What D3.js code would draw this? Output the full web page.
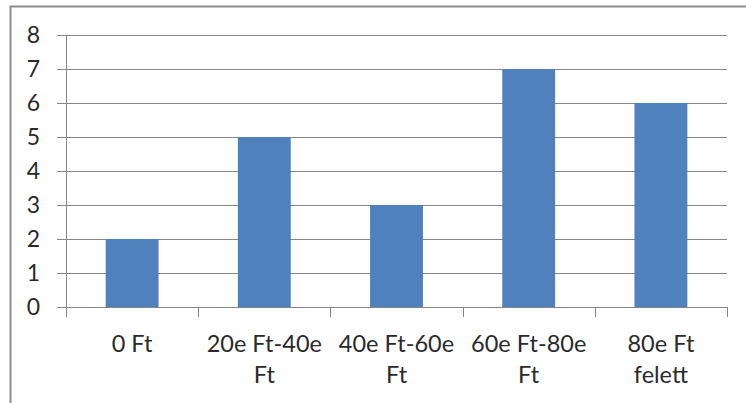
<!DOCTYPE html>
<html>
<head>
<meta charset="utf-8">
<script src="https://cdn.jsdelivr.net/npm/d3@7"></script>
<style>
  body { margin: 0; background: #fff; }
  text { font-family: Lato, "Liberation Sans", sans-serif; fill: #2a2a2a; }
</style>
</head>
<body>
<script>
let width = 746
let height = 403

let categories = ['0 Ft', '20e Ft-40e Ft', '40e Ft-60e Ft', '60e Ft-80e Ft', '80e Ft felett']
let values = [2, 5, 3, 7, 6]
let yTicks = [0, 1, 2, 3, 4, 5, 6, 7, 8]

let svg = d3.select('body').append('svg')
  .attr('width', width)
  .attr('height', height)

// outer frame (cropped at right and bottom)
svg.append('path')
  .attr('d', 'M10.5,' + height + 'V6.5H' + width)
  .attr('fill', 'none')
  .style('stroke', '#8c8c8c')
  .style('stroke-width', 2)

let plotLeft = 66, plotRight = 727, plotTop = 35, plotBottom = 307

let x = d3.scaleBand()
  .domain(categories)
  .range([plotLeft, plotRight])
  .paddingInner(0.6)
  .paddingOuter(0.3)

let y = d3.scaleLinear()
  .domain([0, 8])
  .range([plotBottom, plotTop])

// gridlines + y ticks
let yAxis = svg.append('g')
  .attr('transform', 'translate(' + plotLeft + ',0)')
  .call(d3.axisLeft(y).tickValues(yTicks).tickSize(9).tickPadding(17))

yAxis.select('.domain').remove()
yAxis.selectAll('line').style('stroke', '#868686')
yAxis.selectAll('text')
  .style('font-size', '23px')
  .style('font-family', 'Lato, "Liberation Sans", sans-serif')
  .attr('fill', '#2a2a2a')

svg.append('g').selectAll('line')
  .data(yTicks)
  .join('line')
  .attr('x1', plotLeft)
  .attr('x2', plotRight)
  .attr('y1', d => Math.round(y(d)) + 0.5)
  .attr('y2', d => Math.round(y(d)) + 0.5)
  .style('stroke', '#868686')
  .style('stroke-width', 1)

yAxis.selectAll('.tick').attr('transform', d => 'translate(0,' + (Math.round(y(d)) + 0.5) + ')')

// bars
svg.append('g').selectAll('rect')
  .data(values)
  .join('rect')
  .attr('x', (d, i) => x(categories[i]))
  .attr('y', d => y(d))
  .attr('width', x.bandwidth())
  .attr('height', d => y(0) - y(d))
  .attr('fill', '#4f81bd')

// y axis line
svg.append('line')
  .attr('x1', plotLeft + 0.5).attr('x2', plotLeft + 0.5)
  .attr('y1', plotTop).attr('y2', plotBottom + 1)
  .style('stroke', '#868686')

// x axis line and category boundary ticks
let step = (plotRight - plotLeft) / categories.length
svg.append('line')
  .attr('x1', plotLeft).attr('x2', plotRight)
  .attr('y1', plotBottom + 0.5).attr('y2', plotBottom + 0.5)
  .style('stroke', '#868686')

svg.append('g').selectAll('line')
  .data(d3.range(categories.length + 1))
  .join('line')
  .attr('x1', i => Math.round(plotLeft + i * step) + 0.5)
  .attr('x2', i => Math.round(plotLeft + i * step) + 0.5)
  .attr('y1', plotBottom)
  .attr('y2', plotBottom + 10)
  .style('stroke', '#868686')

// category labels, wrapped
let labels = svg.append('g').selectAll('text')
  .data(categories)
  .join('text')
  .attr('text-anchor', 'middle')
  .style('font-size', '23.5px')
  .attr('x', d => x(d) + x.bandwidth() / 2)
  .attr('y', 352)

labels.each(function(d) {
  let t = d3.select(this)
  let words = d.split(' ')
  let lines = [], line = []
  words.forEach(w => {
    line.push(w)
    t.text(line.join(' '))
    if (this.getComputedTextLength() > 124 && line.length > 1) {
      line.pop()
      lines.push(line.join(' '))
      line = [w]
    }
  })
  lines.push(line.join(' '))
  t.text(null)
  lines.forEach((l, i) => {
    t.append('tspan')
      .attr('x', x(d) + x.bandwidth() / 2)
      .attr('dy', i === 0 ? 0 : 31)
      .text(l)
  })
})
</script>
</body>
</html>
